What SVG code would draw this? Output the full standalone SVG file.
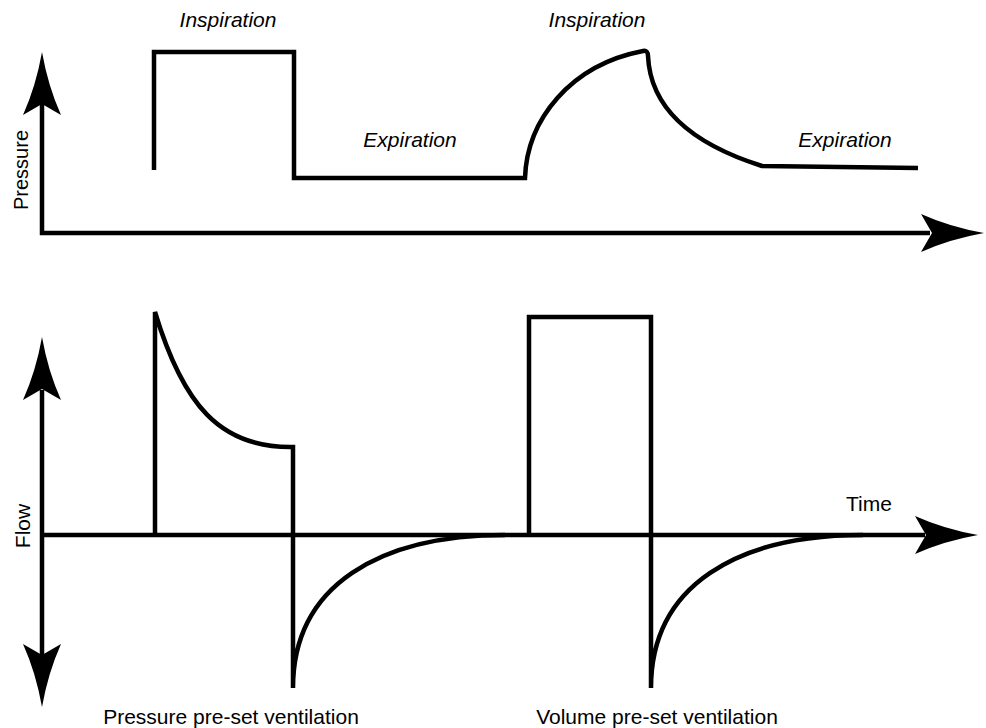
<svg xmlns="http://www.w3.org/2000/svg" width="986" height="728" viewBox="0 0 986 728">
  <style>
    .ln { fill: none; stroke: #000; stroke-width: 4.5; stroke-linejoin: miter; stroke-linecap: butt; }
    .lbl { font-family: "Liberation Sans", Arial, sans-serif; font-size: 21px; fill: #000; }
    .it { font-style: italic; }
    .mid { text-anchor: middle; }
  </style>
  <defs>
    <path id="arrow" d="M0,0 Q-34,6 -63,19 L-52,0 L-63,-19 Q-34,-6 0,0 Z" fill="#000"/>
  </defs>
  <rect width="986" height="728" fill="#fff"/>

  <g id="axes">
    <path class="ln" d="M42,100 L42,233 L930,233"/>
    <use href="#arrow" transform="translate(42,52) rotate(-90)"/>
    <use href="#arrow" transform="translate(984,233)"/>
    <path class="ln" d="M42,390 L42,655"/>
    <path class="ln" d="M40,535 L925,535"/>
    <use href="#arrow" transform="translate(42,337) rotate(-90)"/>
    <use href="#arrow" transform="translate(42,707) rotate(90)"/>
    <use href="#arrow" transform="translate(978,535)"/>
  </g>

  <g id="pressure-curve">
    <path class="ln" d="M154,170 L154,52 L294,52 L294,178 L525,178 C527,120 570,65 643,51 Q648,50 648,56 C650,100 680,140 762,166 L918,168" stroke-linejoin="round"/>
  </g>

  <g id="flow-curve">
    <path class="ln" d="M155,535 L155,312 C183,405 220,447 290,447 L293,447 L293,688 C293,585 380,535 505,535"/>
    <path class="ln" d="M529,535 L529,317 L651,317 L651,688 C651,585 738,535 863,535"/>
  </g>

  <g id="labels">
    <text class="lbl it mid" x="228" y="27">Inspiration</text>
    <text class="lbl it mid" x="597" y="27">Inspiration</text>
    <text class="lbl it mid" x="410" y="147">Expiration</text>
    <text class="lbl it mid" x="845" y="147">Expiration</text>
    <text class="lbl" x="846" y="511">Time</text>
    <text class="lbl mid" x="231" y="724">Pressure pre-set ventilation</text>
    <text class="lbl mid" x="657" y="724">Volume pre-set ventilation</text>
    <text class="lbl mid" transform="translate(28,170) rotate(-90)" style="font-size:20px">Pressure</text>
    <text class="lbl mid" transform="translate(30,526) rotate(-90)">Flow</text>
  </g>
</svg>
